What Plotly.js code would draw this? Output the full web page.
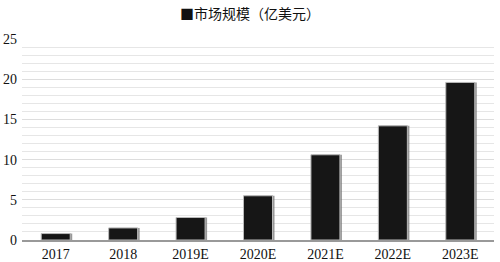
<!DOCTYPE html>
<html><head><meta charset="utf-8">
<script src="https://cdn.plot.ly/plotly-3.0.1.min.js"></script>
<style>html,body{margin:0;padding:0;background:#fff;}#c{width:500px;height:262px;}</style>
</head><body><div id="c"></div>
<script>
const categories = ['2017','2018','2019E','2020E','2021E','2022E','2023E'];
const marketSize = [0.8, 1.5, 2.8, 5.5, 10.6, 14.2, 19.6];
const seriesName = '市场规模（亿美元）';
const yTicks = [0,5,10,15,20,25];

const shadow = {
  type:'bar', x:categories, y:marketSize, showlegend:false, hoverinfo:'skip',
  marker:{color:'rgba(110,110,110,0.7)', line:{width:0}},
  width:0.43, offset:-0.185
};
const bars = {
  type:'bar', x:categories, y:marketSize, name:seriesName,
  marker:{color:'#161616', line:{color:'#bbbbbb', width:1}},
  width:0.43, offset:-0.215
};
Plotly.newPlot('c',[shadow,bars],{
  width:500, height:262,
  margin:{l:22,r:6,t:39,b:22, autoexpand:false},
  paper_bgcolor:'#fff', plot_bgcolor:'#fff',
  barmode:'overlay',
  showlegend:false,
  title:{text:'■' + seriesName, x:0.5, xanchor:'center', y:0.948, yanchor:'middle',
    font:{family:'Noto Sans CJK SC', size:14, color:'#111'}},
  xaxis:{type:'category', tickfont:{family:'Liberation Serif', size:14, color:'#111'},
    showline:true, linecolor:'#999', linewidth:2, ticks:'', showgrid:false},
  yaxis:{range:[0,25], tickvals:yTicks, ticktext:yTicks.map(String),
    tickfont:{family:'Liberation Serif', size:14, color:'#111'},
    showgrid:true, gridcolor:'#dddddd', gridwidth:1, zeroline:false, ticks:'',
    minor:{dtick:1, showgrid:true, gridcolor:'#e6e6e6', gridwidth:1}, ticklabelstandoff:4}
},{displayModeBar:false, staticPlot:true});
</script></body></html>
